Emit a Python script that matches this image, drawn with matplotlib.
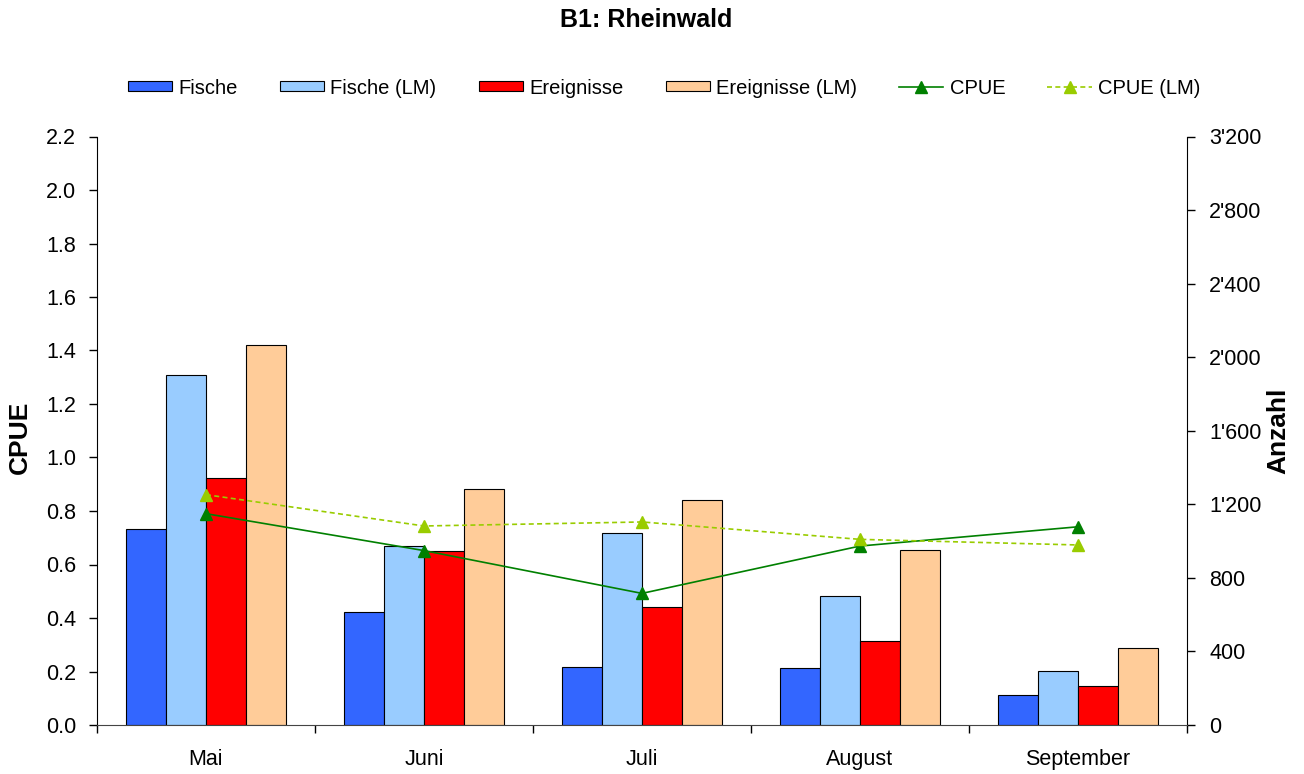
import matplotlib
matplotlib.use("Agg")
import matplotlib.pyplot as plt
from matplotlib.ticker import FuncFormatter, FixedLocator, MultipleLocator
import numpy as np

plt.rcParams['font.family'] = ['Liberation Sans', 'DejaVu Sans']

months = ["Mai", "Juni", "Juli", "August", "September"]
fische = [1064, 613, 317, 308, 161]
fische_lm = [1905, 973, 1046, 700, 295]
ereignisse = [1343, 946, 640, 456, 214]
ereignisse_lm = [2066, 1283, 1222, 951, 420]
cpue = [0.790, 0.652, 0.492, 0.669, 0.741]
cpue_lm = [0.861, 0.744, 0.759, 0.694, 0.673]

bar_series = [
    ("Fische", fische, "#3366FF"),
    ("Fische (LM)", fische_lm, "#99CCFF"),
    ("Ereignisse", ereignisse, "#FF0000"),
    ("Ereignisse (LM)", ereignisse_lm, "#FFCC99"),
]

fig = plt.figure(figsize=(13.04, 7.74), dpi=100)
ax = fig.add_axes([97/1304, 1-725/774, (1187-97)/1304, (725-136.5)/774])
ax2 = ax.twinx()

x = np.arange(len(months))
w = 0.1835
handles = []
for i, (name, vals, col) in enumerate(bar_series):
    b = ax2.bar(x + (i - 1.5) * w, vals, width=w, color=col, edgecolor="black",
                linewidth=0.8, label=name)
    handles.append(b)

l1, = ax.plot(x, cpue, color="#008000", linewidth=1.2, marker="^", markersize=8,
              markeredgecolor="#008000", label="CPUE")
l2, = ax.plot(x, cpue_lm, color="#99CC00", linewidth=1.2, linestyle=(0, (3, 2)),
              marker="^", markersize=8, markeredgecolor="#99CC00", label="CPUE (LM)")
handles += [l1, l2]

ax.set_zorder(ax2.get_zorder() + 1)
ax.patch.set_visible(False)

ax.set_xlim(-0.5, 4.5)
ax.set_ylim(0, 2.2)
ax2.set_ylim(0, 3200)
ax.yaxis.set_major_locator(MultipleLocator(0.2))
ax.yaxis.set_major_formatter(FuncFormatter(lambda v, p: f"{v:.1f}"))
ax2.yaxis.set_major_locator(MultipleLocator(400))
def fmt_thousands(v, p):
    s = f"{int(round(v)):,}"
    return s.replace(",", "'")
ax2.yaxis.set_major_formatter(FuncFormatter(fmt_thousands))

ax.set_xticks(x)
ax.set_xticklabels(months)
ax.xaxis.set_minor_locator(FixedLocator(np.arange(-0.5, 5.0, 1.0)))
ax.tick_params(axis="x", which="major", length=0, pad=17, labelsize=15.5)
ax.tick_params(axis="x", which="minor", length=6, width=1, direction="out")
ax.tick_params(axis="y", length=6, width=1, direction="out", pad=9, labelsize=15.5)
ax2.tick_params(axis="y", length=6, width=1, direction="out", pad=10, labelsize=15.5)

for a in (ax, ax2):
    a.spines["top"].set_visible(False)
ax.spines["right"].set_visible(False)
ax2.spines["left"].set_visible(False)
ax2.spines["bottom"].set_visible(False)
ax.spines["bottom"].set_color("#444444")

fig.text(19.5/1304, 1 - 437/774, "CPUE", rotation=90, fontsize=19, fontweight="bold",
         ha="center", va="center")
fig.text(1278/1304, 1 - 431/774, "Anzahl", rotation=90, fontsize=19, fontweight="bold",
         ha="center", va="center")
fig.text(646/1304, 1 - 20/774, "B1: Rheinwald", fontsize=18, fontweight="bold",
         ha="center", va="center")

fig.legend(handles=handles, labels=[h.get_label() for h in handles], loc="center",
           bbox_to_anchor=(664/1304, 1 - 88/774), ncol=6, frameon=False, fontsize=14.5,
           handlelength=2.2, handleheight=0.4, handletextpad=0.3, columnspacing=2.1)

fig.savefig("out.png", dpi=100)
